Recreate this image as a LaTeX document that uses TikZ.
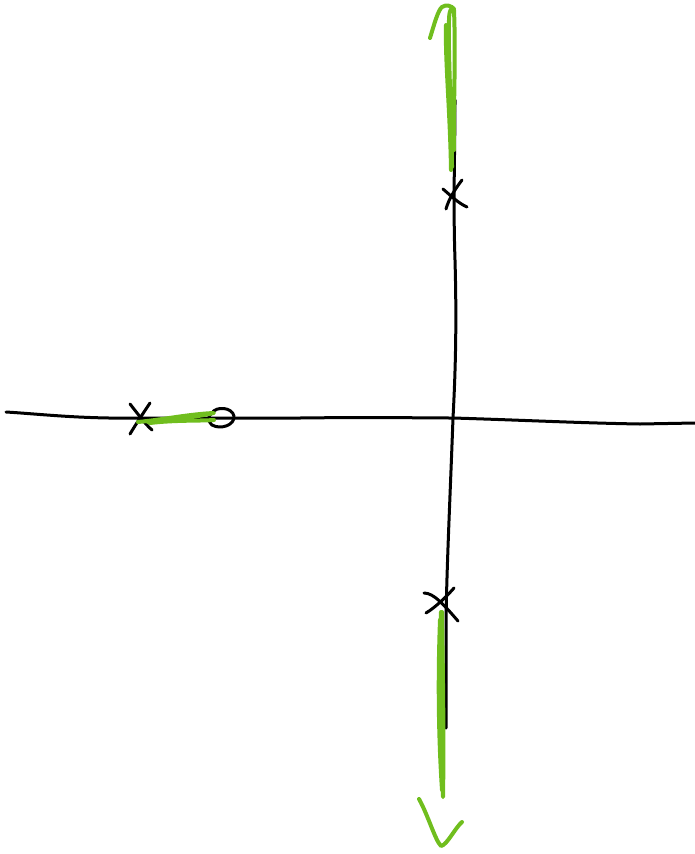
\documentclass[tikz,border=0pt]{standalone}
\definecolor{lgreen}{RGB}{112,190,30}
\begin{document}
\begin{tikzpicture}[x=1pt,y=-1pt,
  ink/.style={line width=3pt,line cap=round,line join=round,black},
  gink/.style={line width=4pt,line cap=round,line join=round,lgreen}]
\useasboundingbox (0,0) rectangle (695,854);
% axes
\coordinate (hl) at (6,412);
\coordinate (hr) at (695,423);
\draw[ink] (hl) .. controls (40,414) and (80,419) .. (140,418)
  -- (300,418) .. controls (380,417) and (420,418) .. (453,418)
  .. controls (520,420) and (580,423) .. (640,424) -- (hr);
\coordinate (vt) at (455,100);
\coordinate (vb) at (446,728);
\draw[ink] (vt) .. controls (455,150) and (453,200) .. (455,260)
  .. controls (457,330) and (455,380) .. (453,418)
  .. controls (450,500) and (447,560) .. (446,620) -- (vb);
\draw[ink] (447,77) -- (449,73);
% poles
\node (p1) at (140,418) {};
\draw[ink] (130,404) .. controls (138,414) and (145,424) .. (152,430);
\draw[ink] (150,403) .. controls (144,412) and (136,424) .. (130,434);
\node (p2) at (453,195) {};
\draw[ink] (443,189) .. controls (450,195) and (458,203) .. (467,207);
\draw[ink] (462,180) .. controls (456,188) and (449,198) .. (446,209);
\node (p3) at (441,603) {};
\draw[ink] (424,593) .. controls (434,593) and (444,605) .. (458,621);
\draw[ink] (454,588) .. controls (447,596) and (436,607) .. (426,613);
% zero
\node (z1) at (219,418) {};
\draw[ink] (212,413) .. controls (216,406) and (232,407) .. (234,416)
  .. controls (235,425) and (221,430) .. (212,425) .. controls (207,420) and (208,416) .. (212,413);
% green loci
\draw[gink] (p1.center) ++(-2,4) .. controls (160,420) and (190,414) .. (214,413)
  .. controls (190,418) and (165,421) .. (148,422);
\draw[gink] (150,423) .. controls (175,420) and (200,421) .. (214,420);
% upward branch
\draw[gink] (452,167) .. controls (452,120) and (448,60) .. (449,20)
  .. controls (449,10) and (452,6) .. (454,10)
  .. controls (456,60) and (453,120) .. (454,150);
\draw[gink] (451,170) .. controls (450,110) and (445,60) .. (446,25);
\draw[gink] (430,38) .. controls (434,25) and (438,10) .. (442,7)
  .. controls (446,4) and (452,6) .. (454,9);
% downward branch
\draw[gink] (441,612) .. controls (438,680) and (442,740) .. (443,797)
  .. controls (444,740) and (443,680) .. (442,612);
\draw[gink] (440,620) .. controls (437,700) and (440,760) .. (442,790);
\draw[gink] (419,799) .. controls (428,815) and (435,840) .. (441,846)
  .. controls (447,845) and (455,828) .. (462,822);
\end{tikzpicture}
\end{document}
